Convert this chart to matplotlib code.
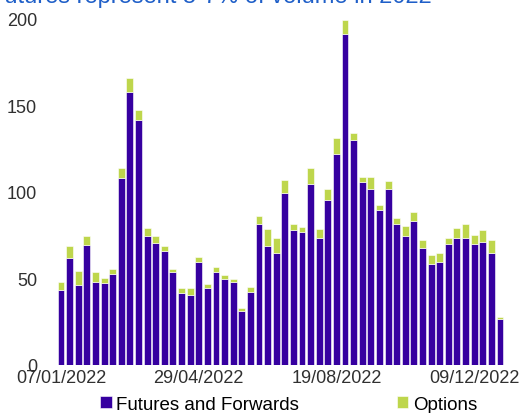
import numpy as np
import matplotlib.pyplot as plt

plt.rcParams['font.family'] = ['Liberation Sans', 'DejaVu Sans']

# weekly volumes, 07/01/2022 .. 30/12/2022
futures = [43.5, 62, 46.5, 69.5, 48, 47.5, 52.5, 108, 158, 141.5,
           74.5, 70.5, 66, 53.5, 41.5, 40.5, 59.5, 44.5, 54, 50,
           48, 31.5, 42, 81.5, 69, 65, 99.5, 78, 77, 104.5,
           73.5, 95.5, 122, 191.5, 130, 106, 101.5, 89.5, 102, 81.5,
           74.5, 83, 67.5, 58.5, 59.5, 70, 73.5, 73.5, 70, 71,
           64.5, 26.5]
totals = [48, 68.5, 54.5, 74.5, 54, 50.5, 55.5, 114, 166, 147.5,
          79, 74.5, 68.5, 55.5, 44.5, 44.5, 62.5, 47, 56.5, 52,
          50, 33, 45, 86, 78.5, 73.5, 107, 81.5, 80, 114,
          78.5, 101.5, 131, 199.5, 134, 108.5, 108.5, 92.5, 106.5, 85,
          80.5, 88.5, 72.5, 63.5, 64.5, 73.5, 79, 81.5, 75, 78,
          72.5, 28]
options = [t - f for t, f in zip(totals, futures)]
tick_labels = ['07/01/2022', '29/04/2022', '19/08/2022', '09/12/2022']
tick_pos = [0, 16, 32, 48]

purple = '#3600a0'
green = '#bed64c'

fig = plt.figure(figsize=(5.23, 4.14), dpi=100)
ax = fig.add_axes([55 / 523, 48 / 414, 451 / 523, 346 / 414])

x = np.arange(len(futures))
ax.bar(x, futures, width=0.8, color=purple, edgecolor='white', linewidth=0.4,
       label='Futures and Forwards')
ax.bar(x, options, width=0.8, bottom=futures, color=green, edgecolor='white',
       linewidth=0.4, label='Options')

ax.set_xlim(-0.7, len(futures) - 0.3)
ax.set_ylim(0, 200)
ax.set_yticks([0, 50, 100, 150, 200])
ax.set_xticks(tick_pos)
ax.set_xticklabels(tick_labels)
for s in ax.spines.values():
    s.set_visible(False)
ax.tick_params(length=0, labelsize=13, colors='#303030', pad=3)
ax.tick_params(axis='y', pad=13)

fig.legend(loc='lower center', bbox_to_anchor=(0.552, -0.04), ncol=2,
           frameon=False, fontsize=13.5, handlelength=0.6, handleheight=0.6,
           handletextpad=0.25, columnspacing=5.2)

fig.text(-0.02, 1.035, 'Futures represent 5-7% of volume in 2022',
         color='#1f5fc8', fontsize=17, ha='left', va='top')

fig.savefig('out.png', dpi=100)
